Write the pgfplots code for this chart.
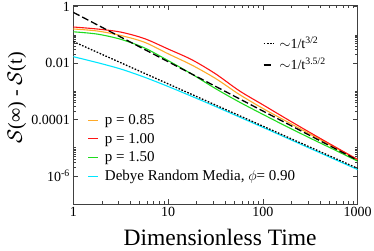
\documentclass[border=0pt]{standalone}
\usepackage{fontspec}
\setmainfont{Liberation Serif}
\usepackage{pgfplots}
\pgfplotsset{compat=1.18}
\definecolor{corange}{RGB}{255,170,40}
\definecolor{cred}{RGB}{255,20,20}
\definecolor{cgreen}{RGB}{30,220,30}
\definecolor{ccyan}{RGB}{0,230,255}
\begin{document}
\begin{tikzpicture}
\useasboundingbox (0,0) rectangle (374pt,250pt);
\begin{axis}[
  xmode=log, ymode=log, xmin=1, xmax=1000, ymin=1e-7, ymax=1.15,
  scale only axis, width=284.4pt, height=199pt,
  at={(73.3pt,46pt)}, anchor=south west,
  /pgf/number format/assume math mode=true,
  axis line style={line width=0.6pt, black!75},
  tick style={black!75, line width=0.5pt},
  tick align=inside, major tick length=5pt, minor tick length=3pt,
  xtick={1,10,100,1000}, xticklabels={1,10,100,1000},
  minor xtick={2,3,4,5,6,7,8,9,20,30,40,50,60,70,80,90,200,300,400,500,600,700,800,900},
  ytick={1e-6,1e-4,1e-2,1}, yticklabels={10\textsuperscript{-6},0.0001,0.01,1},
  minor ytick={0.02,0.03,0.04,0.05,0.06,0.07,0.08,0.09,0.1,2e-4,3e-4,4e-4,5e-4,6e-4,7e-4,8e-4,9e-4,1e-3,2e-6,3e-6,4e-6,5e-6,6e-6,7e-6,8e-6,9e-6,1e-5},
  tick label style={font=\fontsize{14}{14}\selectfont},
  xlabel={Dimensionless Time},
  xlabel style={font=\fontsize{23.5}{23.5}\selectfont, inner sep=0pt, at={(axis description cs:0.516,0)}, anchor=center, yshift=-33pt},
  ylabel={$\mathcal{S}$(∞) - $\mathcal{S}$(t)},
  ylabel style={font=\fontsize{20}{20}\selectfont, inner sep=0pt, at={(axis description cs:-0.198,0.533)}, anchor=center},
  legend style={at={(axis description cs:0.04,0.47)}, anchor=north west, draw=none, fill=none,
    font=\fontsize{15}{15}\selectfont, row sep=3pt,
    /tikz/every odd column/.append style={column sep=4pt}},
  legend cell align=left,
  legend image code/.code={\draw[#1] (0pt,0pt) -- (10pt,0pt);},
]
\addplot[corange, line width=1.1pt, smooth] coordinates {
(1,0.1622) (1.778,0.1380) (3.162,0.0955) (5.623,0.0550) (10,0.02138) (17.78,0.00851)
(31.62,0.002851) (56.23,7.762e-4) (100,2.455e-4) (177.8,8.511e-5) (316.2,2.985e-5)
(562.3,1.047e-5) (1000,3.673e-6)};
\addlegendentry{p = 0.85}
\addplot[cred, line width=1.1pt, smooth] coordinates {
(1,0.1905) (1.778,0.1622) (3.162,0.1259) (5.623,0.0741) (10,0.0316) (17.78,0.01318)
(31.62,0.004169) (56.23,0.001047) (100,3.311e-4) (177.8,1.047e-4) (316.2,3.388e-5)
(562.3,1.122e-5) (1000,3.802e-6)};
\addlegendentry{p = 1.00}
\addplot[cgreen, line width=1.1pt, smooth] coordinates {
(1,0.1288) (1.778,0.1072) (3.162,0.0700) (5.623,0.0347) (10,0.0123) (17.78,0.004074)
(31.62,0.001245) (56.23,4.169e-4) (100,1.514e-4) (177.8,5.623e-5) (316.2,2.163e-5)
(562.3,8.511e-6) (1000,3.311e-6)};
\addlegendentry{p = 1.50}
\addplot[ccyan, line width=1.1pt, smooth] coordinates {
(1,0.01687) (1.778,0.01047) (3.162,0.006166) (5.623,0.003162) (10,0.001479) (17.78,6.607e-4)
(31.62,2.884e-4) (56.23,1.230e-4) (100,5.248e-5) (177.8,2.213e-5) (316.2,9.333e-6)
(562.3,3.936e-6) (1000,1.660e-6)};
\addlegendentry{Debye Random Media, $\phi$= 0.90}
\end{axis}
\begin{axis}[
  xmode=log, ymode=log, xmin=1, xmax=1000, ymin=1e-7, ymax=1.15,
  scale only axis, width=284.4pt, height=199pt,
  at={(73.3pt,46pt)}, anchor=south west, hide axis,
  legend style={at={(axis description cs:0.656,0.86)}, anchor=north west, draw=none, fill=none,
    font=\fontsize{14}{14}\selectfont, row sep=4pt,
    /tikz/every odd column/.append style={column sep=3pt}},
  legend cell align=left,
  legend image code/.code={\draw[#1] (0pt,0pt) -- (10pt,0pt);},
]
\addplot[black, line width=1.3pt, dash pattern=on 1.6pt off 1.6pt] coordinates {(1,0.058) (1000,1.83e-6)};
\addlegendentry{$\sim$1/t\textsuperscript{3/2}}
\addplot[black, line width=1.3pt, dash pattern=on 7pt off 3pt] coordinates {(1,0.63) (1000,3.54e-6)};
\addlegendentry{$\sim$1/t\textsuperscript{3.5/2}}
\end{axis}
\end{tikzpicture}
\end{document}
